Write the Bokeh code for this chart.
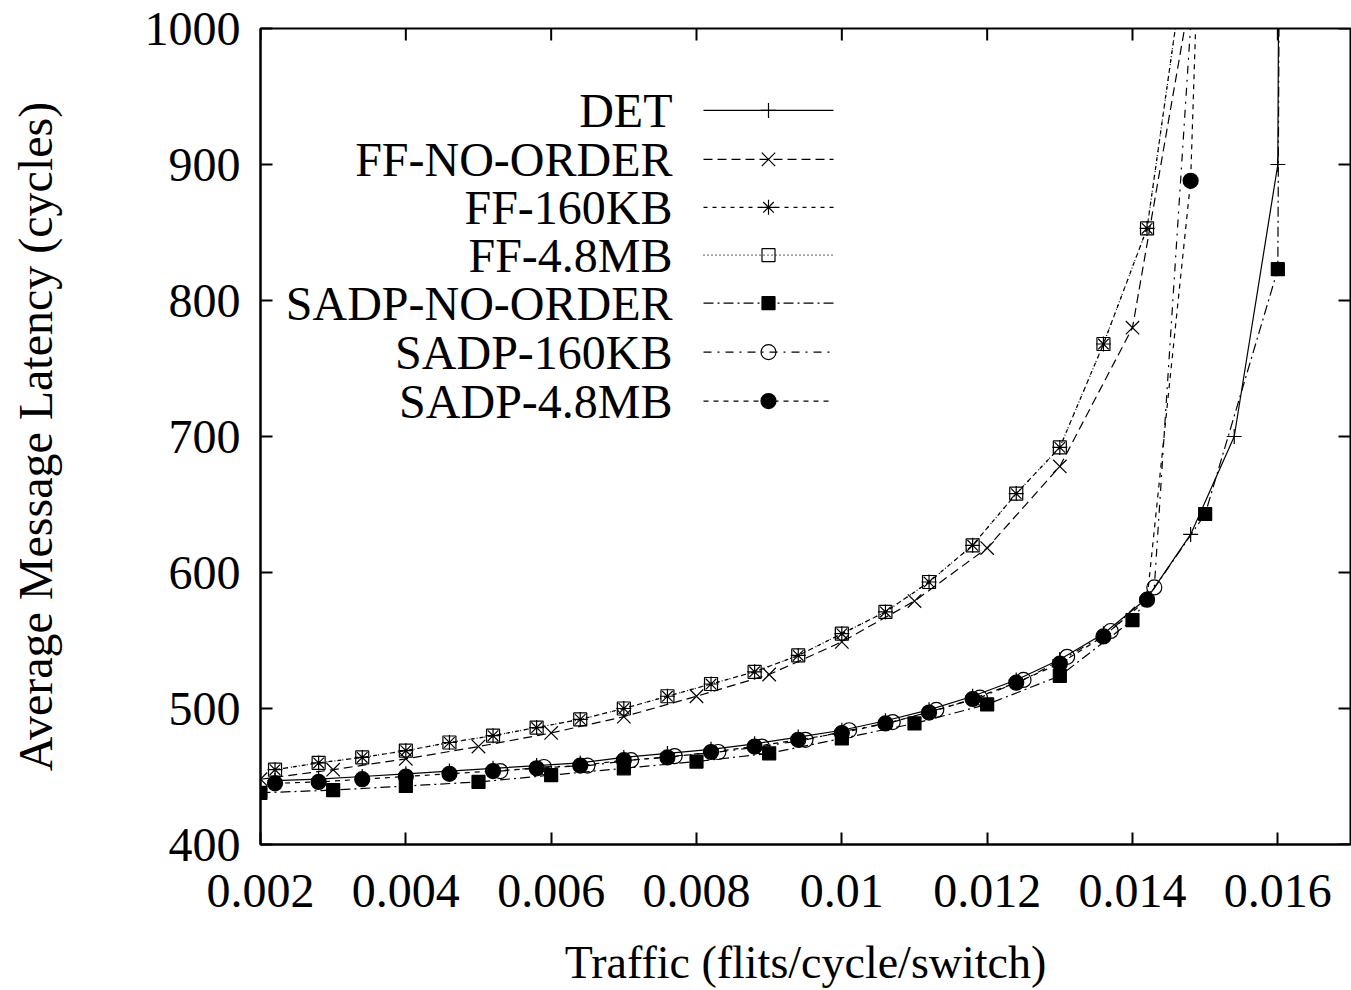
import math
from bokeh.plotting import figure
from bokeh.models import FixedTicker, Range1d, Label
from bokeh.embed import file_html
from bokeh.resources import INLINE

FONT = "Liberation Serif"
FS = "48px"
FS_AXIS = "46px"

# ---------------- data ----------------
x_ticks = [0.002, 0.004, 0.006, 0.008, 0.010, 0.012, 0.014, 0.016]
x_tick_labels = ["0.002", "0.004", "0.006", "0.008", "0.01", "0.012", "0.014", "0.016"]
y_ticks = [400, 500, 600, 700, 800, 900, 1000]

x_a = [0.0022, 0.0028, 0.0034, 0.0040, 0.0046, 0.0052, 0.0058, 0.0064, 0.0070, 0.0076,
       0.0082, 0.0088, 0.0094, 0.0100, 0.0106, 0.0112, 0.0118, 0.0124, 0.0130, 0.0136,
       0.0142, 0.0148, 0.0154, 0.0160, 0.0166]
x_b = [0.002, 0.003, 0.004, 0.005, 0.006, 0.007, 0.008, 0.009, 0.010, 0.011,
       0.012, 0.013, 0.014, 0.015, 0.016, 0.017]
x_c = [0.0053, 0.0059, 0.0065, 0.0071, 0.0077, 0.0083, 0.0089, 0.0095, 0.0101, 0.0107,
       0.0113, 0.0119, 0.0125, 0.0131, 0.0137, 0.0143, 0.0149]

det = [447, 448, 450, 452, 454, 456, 458, 460, 464, 467, 470, 474, 479, 484, 491,
       499, 509, 521, 536, 555, 581, 628, 700, 900, 8000]
ff_no_order = [448, 455, 463, 472, 482, 494, 509, 525, 549, 579, 618, 678, 780, 1087]
ff_160kb = [455, 460, 464, 469, 475, 480, 486, 492, 500, 509, 518, 527, 539, 555, 571,
            593, 620, 658, 692, 768, 853, 1080]
ff_48mb = [455, 460, 464, 469, 475, 480, 486, 492, 500, 509, 518, 527, 539, 555, 571,
           593, 620, 658, 692, 768, 853, 1080]
sadp_no_order = [438, 440, 443, 446, 451, 456, 461, 467, 478, 489, 503, 524, 565, 643,
                 823, 12000]
sadp_160kb = [454, 457, 458, 462, 465, 468, 472, 477, 484, 490, 499, 508, 521, 538, 557,
              589, 1085]
sadp_48mb = [445, 446, 448, 450, 452, 454, 456, 458, 462, 464, 468, 472, 477, 482, 489,
             497, 507, 519, 533, 553, 580, 888, 1870]

names = ["DET", "FF-NO-ORDER", "FF-160KB", "FF-4.8MB", "SADP-NO-ORDER", "SADP-160KB", "SADP-4.8MB"]

# style per series: (x, y, dash, marker, size, fill)
series = [
    (x_a[:len(det)], det, "solid", "cross", 15, False),
    (x_b[:len(ff_no_order)], ff_no_order, "9 5", "x", 19, False),
    (x_a[:len(ff_160kb)], ff_160kb, "4 5", "asterisk", 15, False),
    (x_a[:len(ff_48mb)], ff_48mb, "1 3", "square", 13, False),
    (x_b[:len(sadp_no_order)], sadp_no_order, "10 4 2 4", "square", 13, True),
    (x_c[:len(sadp_160kb)], sadp_160kb, "8 6 2 6", "circle", 15, False),
    (x_a[:len(sadp_48mb)], sadp_48mb, "5 5", "circle", 15, True),
]

X0, X1, Y0, Y1 = 0.002, 0.017, 400, 1000

W, H = 1351, 990
p = figure(width=W, height=H, x_range=Range1d(X0, X1), y_range=Range1d(Y0, Y1),
           output_backend="svg", toolbar_location=None,
           min_border_left=260, min_border_right=1, min_border_top=28, min_border_bottom=145)
p.xgrid.visible = False
p.ygrid.visible = False
p.outline_line_color = "black"
p.outline_line_width = 2
p.background_fill_color = "white"
p.border_fill_color = "white"

def style_axis(ax):
    ax.major_tick_in = 12
    ax.major_tick_out = 0
    ax.minor_tick_line_color = None
    ax.axis_line_width = 2
    ax.major_tick_line_width = 2
    ax.axis_line_color = "black"
    ax.major_tick_line_color = "black"
    ax.major_label_text_font = FONT
    ax.major_label_text_font_size = FS
    ax.major_label_text_color = "black"
    ax.axis_label_text_font = FONT
    ax.axis_label_text_font_size = FS_AXIS
    ax.axis_label_text_font_style = "normal"
    ax.axis_label_text_color = "black"

xb = p.xaxis[0]
xb.ticker = FixedTicker(ticks=x_ticks)
xb.major_label_overrides = {t: l for t, l in zip(x_ticks, x_tick_labels)}
xb.axis_label = "Traffic (flits/cycle/switch)"
style_axis(xb)
xb.major_label_standoff = 30
xb.axis_label_standoff = 27

yl = p.yaxis[0]
yl.ticker = FixedTicker(ticks=y_ticks)
yl.axis_label = "Average Message Latency (cycles)"
style_axis(yl)
yl.axis_label_text_font_size = "48px"
yl.major_label_standoff = 20
yl.axis_label_standoff = 80

# mirrored inward ticks on the top and right borders (gnuplot style)
p.ray(x=x_ticks, y=[Y1] * len(x_ticks), length=12, length_units="screen",
      angle=-math.pi / 2, line_color="black", line_width=2)
p.ray(x=[X1] * len(y_ticks), y=y_ticks, length=12, length_units="screen",
      angle=math.pi, line_color="black", line_width=2)

for (xs, ys, dash, mk, sz, fill) in series:
    p.line(xs, ys, line_color="black", line_width=1.2, line_dash=dash)
    p.scatter(xs, ys, marker=mk, size=sz, line_color="black", line_width=1.2,
              fill_color="black" if fill else None)

# gnuplot-style key (text on the left, sample on the right), placed in frame pixels
FL, FR, FT, FB = 260.0, 1350.0, 28.0, 845.0
def lx(px):
    return X0 + (px - FL) / (FR - FL) * (X1 - X0)
def ly(py):
    return Y0 + (FB - py) / (FB - FT) * (Y1 - Y0)

rows = [110, 159, 207, 255, 303, 352, 401]
for name, row, (xs, ys, dash, mk, sz, fill) in zip(names, rows, series):
    p.add_layout(Label(x=lx(672), y=ly(row), text=name, text_align="right",
                       text_baseline="middle", text_font=FONT, text_font_size=FS,
                       text_color="black"))
    p.line([lx(703), lx(833)], [ly(row), ly(row)], line_color="black", line_width=1.2,
           line_dash=dash)
    p.scatter([lx(768)], [ly(row)], marker=mk, size=sz, line_color="black",
              line_width=1.2, fill_color="black" if fill else None)

open("out.html", "w").write(file_html(p, INLINE))
